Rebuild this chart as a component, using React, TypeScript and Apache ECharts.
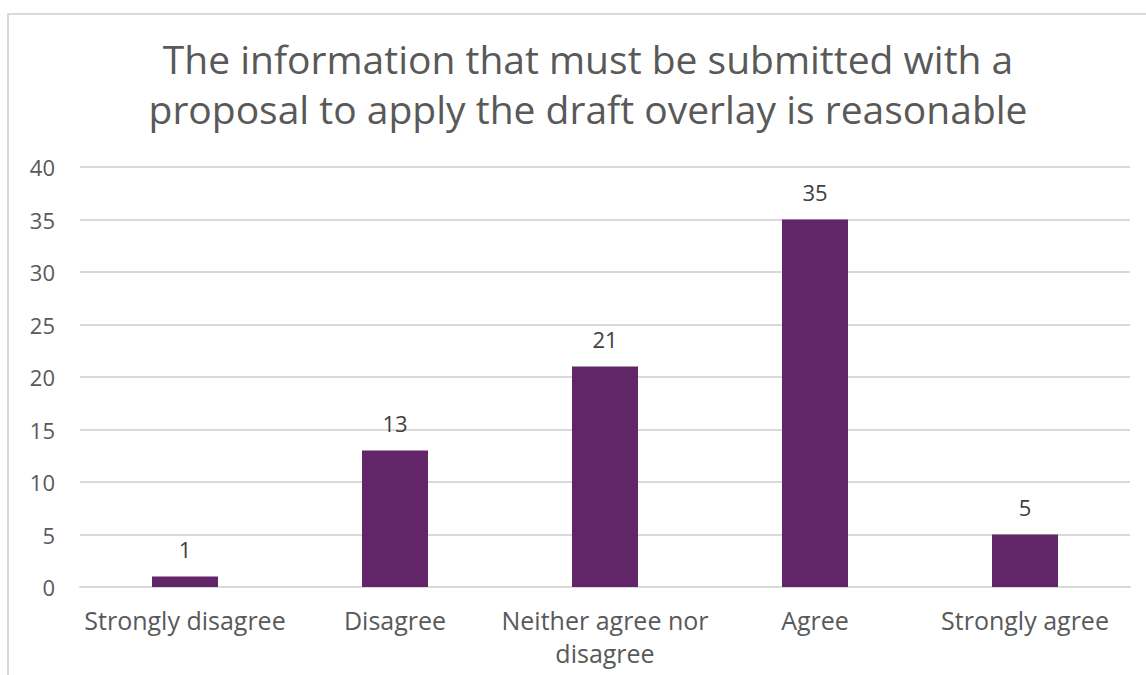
import React, { useEffect, useRef } from "react";
import * as echarts from "echarts";

const categories = ["Strongly disagree", "Disagree", "Neither agree nor\ndisagree", "Agree", "Strongly agree"];
const values = [1, 13, 21, 35, 5];
const titleText = "The information that must be submitted with a\nproposal to apply the draft overlay is reasonable";

export default function App() {
  const ref = useRef<HTMLDivElement>(null);
  useEffect(() => {
    const chart = echarts.init(ref.current!, null, { renderer: "svg" });
    const font = "'Open Sans', 'Noto Sans', sans-serif";
    chart.setOption({
      animation: false,
      backgroundColor: "#ffffff",
      graphic: [
        {
          type: "rect",
          shape: { x: 8, y: 14, width: 1200, height: 700 },
          style: { fill: "none", stroke: "#d9d9d9", lineWidth: 2 },
          silent: true,
          z: -1,
        },
      ],
      title: {
        text: titleText,
        left: 583,
        textAlign: "center",
        top: 28,
        textStyle: { fontFamily: font, fontSize: 39, fontWeight: "normal", color: "#595959", lineHeight: 50 },
      },
      grid: { left: 80, right: 16, top: 167, bottom: 88, containLabel: false },
      xAxis: {
        type: "category",
        data: categories,
        axisLine: { show: true, lineStyle: { color: "#d9d9d9", width: 2 } },
        axisTick: { show: false },
        axisLabel: { color: "#595959", fontSize: 25, fontFamily: font, margin: 16, lineHeight: 33, interval: 0 },
      },
      yAxis: {
        type: "value",
        min: 0,
        max: 40,
        interval: 5,
        axisLine: { show: false },
        axisTick: { show: false },
        splitLine: { lineStyle: { color: "#d9d9d9", width: 2 } },
        axisLabel: { color: "#595959", fontSize: 22, fontFamily: font, margin: 25 },
      },
      series: [
        {
          type: "bar",
          data: values,
          barWidth: 66,
          itemStyle: { color: "#622567" },
          label: { show: true, position: "top", distance: 17, color: "#404040", fontSize: 22, fontFamily: font },
        },
      ],
    });
    return () => chart.dispose();
  }, []);
  return <div ref={ref} style={{ position: "fixed", left: 0, top: 0, width: 1146, height: 675 }} />;
}
